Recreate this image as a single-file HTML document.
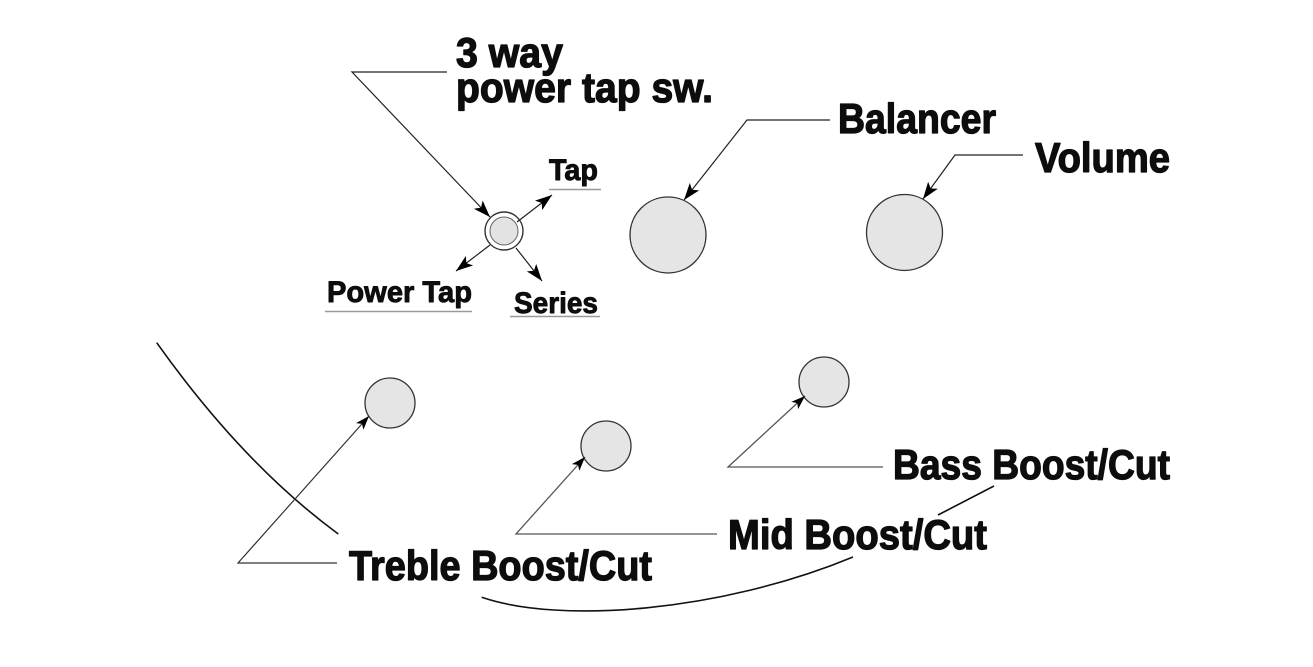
<!DOCTYPE html>
<html>
<head>
<meta charset="utf-8">
<style>
  html, body { margin: 0; padding: 0; background: #fff; }
  svg { display: block; }
  .t { font-family: "Liberation Sans", Arial, sans-serif; font-weight: bold; fill: #0d0d0d; stroke: #0d0d0d; stroke-linejoin: round; }
  .big { font-size: 42px; stroke-width: 1.3px; }
  .sm { font-size: 30px; stroke-width: 0.9px; }
</style>
</head>
<body>
<svg width="1313" height="667" viewBox="0 0 1313 667" xmlns="http://www.w3.org/2000/svg">
  <defs>
    <marker id="ab" markerUnits="userSpaceOnUse" markerWidth="18" markerHeight="12" refX="17" refY="6" orient="auto" viewBox="0 0 18 12">
      <path d="M0,0 L17,6 L0,12 L4,6 Z" fill="#000"/>
    </marker>
    <marker id="as" markerUnits="userSpaceOnUse" markerWidth="15" markerHeight="10" refX="14" refY="5" orient="auto" viewBox="0 0 15 10">
      <path d="M0,0 L14,5 L0,10 L3.5,5 Z" fill="#000"/>
    </marker>
  </defs>

  <rect width="1313" height="667" fill="#fff"/>

  <!-- body outline curves -->
  <path d="M156.7,342.7 Q243,464 338.3,534" fill="none" stroke="#111" stroke-width="1.6"/>
  <path d="M481.7,597.3 C560,624 720,612 853,557" fill="none" stroke="#111" stroke-width="1.6"/>
  <path d="M938,515 L994,486" fill="none" stroke="#111" stroke-width="1.6"/>

  <!-- circles -->
  <circle cx="668" cy="235" r="38" fill="#e5e5e5" stroke="#333" stroke-width="1.3"/>
  <circle cx="904.5" cy="232.5" r="38" fill="#e5e5e5" stroke="#333" stroke-width="1.3"/>
  <circle cx="390" cy="403" r="25" fill="#e5e5e5" stroke="#333" stroke-width="1.3"/>
  <circle cx="606" cy="446" r="25" fill="#e5e5e5" stroke="#333" stroke-width="1.3"/>
  <circle cx="824" cy="382" r="25" fill="#e5e5e5" stroke="#333" stroke-width="1.3"/>
  <!-- switch -->
  <circle cx="504" cy="231" r="19" fill="#fff" stroke="#333" stroke-width="1.4"/>
  <circle cx="504" cy="231" r="14" fill="#e3e3e3" stroke="#666" stroke-width="1"/>

  <!-- leaders -->
  <polyline points="447,72 352,72 490,217" fill="none" stroke="#222" stroke-width="1.2" marker-end="url(#ab)"/>
  <polyline points="830,120 747,120 684,200" fill="none" stroke="#222" stroke-width="1.2" marker-end="url(#ab)"/>
  <polyline points="1023,155 955,155 923,199" fill="none" stroke="#222" stroke-width="1.2" marker-end="url(#ab)"/>

  <line x1="517" y1="222" x2="552" y2="195" stroke="#222" stroke-width="1.2" marker-end="url(#ab)"/>
  <line x1="490" y1="245" x2="456" y2="271" stroke="#222" stroke-width="1.2" marker-end="url(#ab)"/>
  <line x1="516" y1="248" x2="542" y2="281" stroke="#222" stroke-width="1.2" marker-end="url(#ab)"/>

  <polyline points="337,563 238,563 369,416" fill="none" stroke="#333" stroke-width="1.2" marker-end="url(#as)"/>
  <polyline points="717,534 516,534 585,457" fill="none" stroke="#555" stroke-width="1.3" marker-end="url(#as)"/>
  <polyline points="883,467 728,467 805,396" fill="none" stroke="#555" stroke-width="1.3" marker-end="url(#as)"/>

  <!-- underlines -->
  <line x1="549" y1="189.5" x2="601" y2="189.5" stroke="#999" stroke-width="1.5"/>
  <line x1="325" y1="311.5" x2="472" y2="311.5" stroke="#999" stroke-width="1.5"/>
  <line x1="510" y1="316.5" x2="600" y2="316.5" stroke="#999" stroke-width="1.5"/>

  <!-- labels -->
  <text class="t big" x="456" y="67" textLength="107" lengthAdjust="spacingAndGlyphs">3 way</text>
  <text class="t big" x="456" y="102" textLength="257" lengthAdjust="spacingAndGlyphs">power tap sw.</text>
  <text class="t big" x="838" y="133" textLength="158" lengthAdjust="spacingAndGlyphs">Balancer</text>
  <text class="t big" x="1035" y="172" textLength="135" lengthAdjust="spacingAndGlyphs">Volume</text>

  <text class="t sm" x="549" y="180" textLength="49" lengthAdjust="spacingAndGlyphs">Tap</text>
  <text class="t sm" x="327" y="302" textLength="145" lengthAdjust="spacingAndGlyphs">Power Tap</text>
  <text class="t sm" x="514" y="313" textLength="84" lengthAdjust="spacingAndGlyphs">Series</text>

  <text class="t big" x="349" y="580" textLength="303" lengthAdjust="spacingAndGlyphs">Treble Boost/Cut</text>
  <text class="t big" x="728" y="549" textLength="259" lengthAdjust="spacingAndGlyphs">Mid Boost/Cut</text>
  <text class="t big" x="893" y="479" textLength="277" lengthAdjust="spacingAndGlyphs">Bass Boost/Cut</text>
</svg>
</body>
</html>
